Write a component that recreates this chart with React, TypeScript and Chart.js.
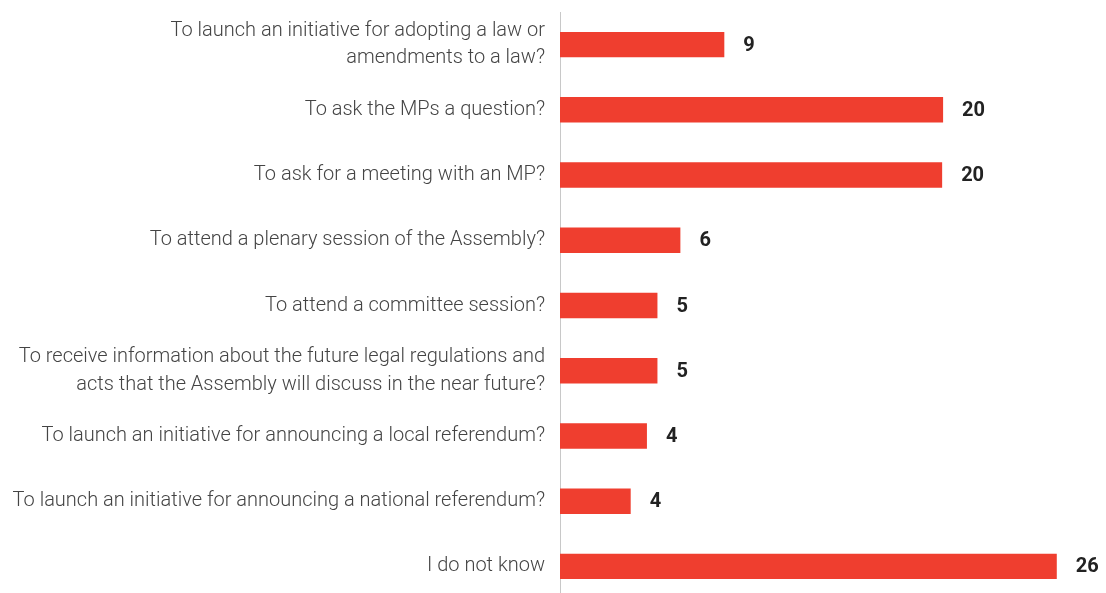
import React, { useEffect, useRef } from "react";
import { Chart, registerables } from "chart.js";

Chart.register(...registerables);

const categories: (string | string[])[] = [
  ["To launch an initiative for adopting a law or", "amendments to a law?"],
  "To ask the MPs a question?",
  "To ask for a meeting with an MP?",
  "To attend a plenary session of the Assembly?",
  "To attend a committee session?",
  [
    "To receive information about the future legal regulations and",
    "acts that the Assembly will discuss in the near future?",
  ],
  "To launch an initiative for announcing a local referendum?",
  "To launch an initiative for announcing a national referendum?",
  "I do not know",
];

const values = [8.6, 20.05, 20.0, 6.3, 5.1, 5.1, 4.55, 3.7, 26.0];
const shownLabels = ["9", "20", "20", "6", "5", "5", "4", "4", "26"];

const BAR_COLOR = "#EF3E2F";

const valueLabelPlugin = {
  id: "valueLabels",
  afterDatasetsDraw(chart: any) {
    const ctx = chart.ctx;
    const meta = chart.getDatasetMeta(0);
    ctx.save();
    ctx.font = "bold 20px Roboto";
    ctx.fillStyle = "#222222";
    ctx.textAlign = "left";
    ctx.textBaseline = "middle";
    meta.data.forEach((bar: any, i: number) => {
      ctx.fillText(shownLabels[i], bar.x + 19, bar.y + 1);
    });
    ctx.restore();
  },
};

export default function App() {
  const ref = useRef<HTMLCanvasElement | null>(null);

  useEffect(() => {
    if (!ref.current) return;
    const chart = new Chart(ref.current, {
      type: "bar",
      data: {
        labels: categories,
        datasets: [
          {
            data: values,
            backgroundColor: BAR_COLOR,
            borderWidth: 0,
            barPercentage: 0.39,
            categoryPercentage: 1,
          },
        ],
      },
      options: {
        indexAxis: "y",
        animation: false,
        responsive: false,
        maintainAspectRatio: false,
        layout: { padding: { top: 12, right: 11, bottom: 0, left: 0 } },
        plugins: {
          legend: { display: false },
          tooltip: { enabled: false },
        },
        scales: {
          x: {
            display: false,
            min: 0,
            max: 28,
          },
          y: {
            grid: { display: false, drawTicks: false },
            border: { display: true, color: "#c8c8c8", width: 1 },
            ticks: {
              color: "#444444",
              font: { family: "Roboto", size: 20, weight: "300", lineHeight: 1.38 },
              padding: 15,
              autoSkip: false,
            },
            afterFit(scale: any) {
              scale.width = 560;
              scale.paddingTop = 0;
              scale.paddingBottom = 0;
            },
          },
        },
      },
      plugins: [valueLabelPlugin],
    });
    return () => chart.destroy();
  }, []);

  return (
    <div
      style={{
        position: "fixed",
        left: 0,
        top: 0,
        width: 1106,
        height: 599,
        background: "#ffffff",
      }}
    >
      <canvas ref={ref} width={1106} height={599} style={{ display: "block" }} />
    </div>
  );
}
